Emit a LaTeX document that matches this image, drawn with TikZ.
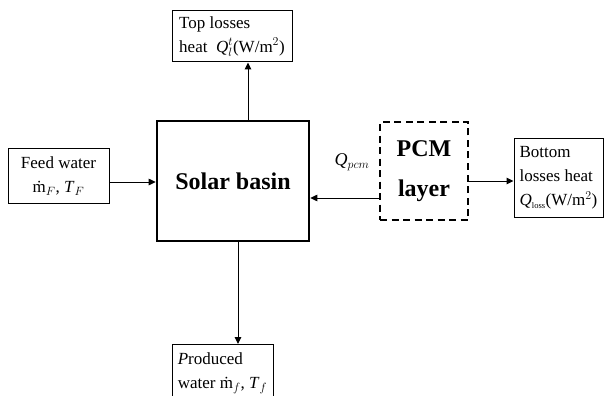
\documentclass[tikz,border=0pt]{standalone}
\usepackage{fontspec}
\setmainfont{Liberation Serif}
\usetikzlibrary{arrows.meta}
\newcommand{\qit}{\textit{Q}}
\newcommand{\tit}{\textit{T}}
\begin{document}
\begin{tikzpicture}[x=1pt,y=-1pt,
  box/.style={draw,line width=1pt,inner sep=0pt,font=\fontsize{17}{24}\selectfont},
  bigbox/.style={draw,line width=2.6pt,inner sep=0pt,align=center,font=\fontsize{24}{40}\selectfont\bfseries},
  arr/.style={-{Triangle[length=7pt,width=6.5pt]},line width=1pt},
  lbl/.style={font=\fontsize{18}{20}\selectfont}]
\useasboundingbox (0,0) rectangle (606,396);
\node[box,minimum width=120pt,minimum height=51pt,align=left] (top) at (232,36.5) {Top losses\\heat \ \qit$_l^t$(W/m$^2$)};
\node[box,minimum width=101pt,minimum height=54pt,align=center] (feed) at (58.5,176) {Feed water\\\.{m}$_F$, \tit$_F$};
\node[bigbox,minimum width=152pt,minimum height=120pt] (solar) at (233,181) {Solar basin};
\node[bigbox,dash pattern=on 7pt off 4.5pt,minimum width=88pt,minimum height=98pt] (pcm) at (424,171) {PCM\\layer};
\node[box,minimum width=89pt,minimum height=78pt,align=left] (bottom) at (558.5,178) {Bottom\\losses heat\\\qit$_{\scriptscriptstyle\mathrm{loss}}$(W/m$^2$)};
\node[box,minimum width=101pt,minimum height=58pt,align=left,anchor=north] (prod) at (222.5,344) {\textit{P}roduced\\water \.{m}$_f$, \tit$_f$};
\node[lbl] (qpcm) at (352,162) {\qit$_{pcm}$};
\draw[arr] ([xshift=15pt]solar.north) -- ([xshift=15pt]solar.north |- top.south);
\draw[arr] ([yshift=-6pt]feed.east) -- ([yshift=-6pt]feed.east -| solar.west);
\draw[arr] ([yshift=-27pt]pcm.west) -- ([yshift=-27pt]pcm.west -| solar.east);
\draw[arr] ([yshift=-10pt]pcm.east) -- ([yshift=-10pt]pcm.east -| bottom.west);
\draw[arr] ([xshift=5pt]solar.south) -- ([xshift=5pt]solar.south |- prod.north);
\end{tikzpicture}
\end{document}
